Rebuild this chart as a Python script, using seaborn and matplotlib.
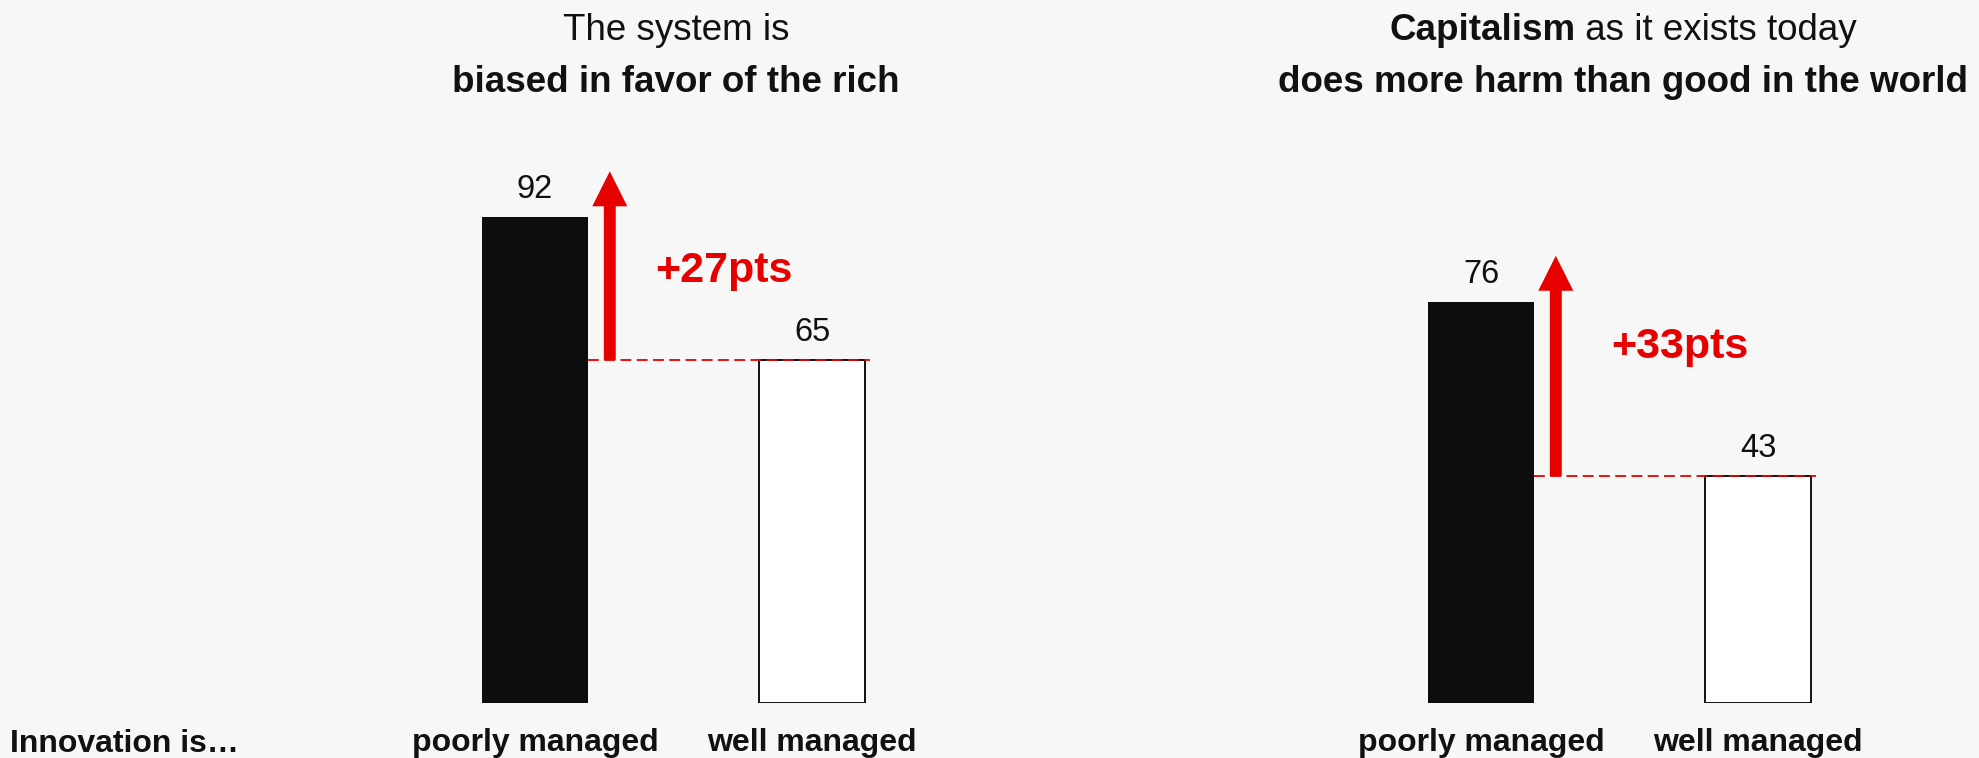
import matplotlib
matplotlib.use("Agg")
import matplotlib.pyplot as plt
import seaborn as sns
import pandas as pd

# ---------------- data ----------------
categories = ["poorly managed", "well managed"]
system_biased = [92, 65]
capitalism_harm = [76, 43]
panel_values = [system_biased, capitalism_harm]
diff_labels = ["+27pts", "+33pts"]
title_bold_lead = ["", "Capitalism"]
title_line1 = ["The system is", " as it exists today"]
title_line2 = ["biased in favor of the rich", "does more harm than good in the world"]
row_label = "Innovation is\u2026"

# annotation placement (data units)
diff_label_pos = [(0.682, 79.7), (0.718, 65.3)]

# ---------------- style ----------------
BG = "#f7f7f7"
RED = "#e60000"
BAR_COLORS = {"poorly managed": "#0d0d0d", "well managed": "#ffffff"}
ARROW_X = 0.27
ARROW_OVERSHOOT = 8.7
TITLE_FS = 26.5
LABEL_FS = 23

sns.set_style("white")
plt.rcParams["font.family"] = ["Liberation Sans", "DejaVu Sans"]

W, H = 1979, 758
fig = plt.figure(figsize=(W / 100, H / 100), dpi=100, facecolor=BG)

axes_left_px = [396.5, 1342.5]
title_center_px = [676, 1623]

for k, vals in enumerate(panel_values):
    ax = fig.add_axes([axes_left_px[k] / W, 55 / H, 554 / W, 528 / H])
    ax.set_facecolor(BG)
    df = pd.DataFrame({"cat": categories, "val": vals})
    sns.barplot(data=df, x="cat", y="val", hue="cat", palette=BAR_COLORS,
                width=0.38, saturation=1, legend=False, ax=ax)
    ax.patches[0].set_edgecolor("#0d0d0d")
    ax.patches[0].set_linewidth(0)
    ax.patches[1].set_edgecolor("#111111")
    ax.patches[1].set_linewidth(1.4)

    ax.set_xlim(-0.5, 1.5)
    ax.set_ylim(0, 100)
    for s in ax.spines.values():
        s.set_visible(False)
    ax.set_yticks([])
    ax.set_xlabel("")
    ax.set_ylabel("")
    ax.set_xticks([0, 1])
    ax.set_xticklabels(categories, fontsize=LABEL_FS, fontweight="bold", color="#111111")
    ax.tick_params(axis="x", length=0, pad=18.0)

    # value labels
    for i, v in enumerate(vals):
        ax.annotate(str(v), xy=(i, v), xytext=(0, 13.7), textcoords="offset points",
                    ha="center", va="baseline", fontsize=23.5, color="#111111")

    poor, well = vals
    # dashed reference line
    ax.hlines(well, 0.19, 1.21, colors=RED, linewidth=1.3,
              linestyles=(0, (6, 3)), zorder=5)
    # arrow
    ax.annotate("", xy=(ARROW_X, poor + ARROW_OVERSHOOT), xytext=(ARROW_X, well),
                arrowprops=dict(arrowstyle="simple,head_length=25.2,head_width=25.2,tail_width=8.6",
                                mutation_scale=1, color=RED, lw=0, shrinkA=0, shrinkB=0),
                annotation_clip=False, zorder=6)
    # difference label
    ax.text(diff_label_pos[k][0], diff_label_pos[k][1], diff_labels[k], color=RED,
            fontsize=31, fontweight="bold", ha="center", va="baseline")

# titles
renderer = fig.canvas.get_renderer()
for k in range(2):
    xc = title_center_px[k] / W
    y1 = 1 - 40 / H
    y2 = 1 - 92 / H
    if title_bold_lead[k]:
        tb = fig.text(0, y1, title_bold_lead[k], fontsize=TITLE_FS, fontweight="bold",
                      ha="left", va="baseline", color="#111111")
        tr = fig.text(0, y1, title_line1[k], fontsize=TITLE_FS, ha="left", va="baseline",
                      color="#111111")
        wb = tb.get_window_extent(renderer).width
        wr = tr.get_window_extent(renderer).width
        x0 = title_center_px[k] - (wb + wr) / 2
        tb.set_x(x0 / W)
        tr.set_x((x0 + wb) / W)
    else:
        fig.text(xc, y1, title_line1[k], fontsize=TITLE_FS, ha="center", va="baseline",
                 color="#111111")
    fig.text(xc, y2, title_line2[k], fontsize=TITLE_FS, fontweight="bold", ha="center",
             va="baseline", color="#111111")

fig.text(10 / W, 1 - 752 / H, row_label, fontsize=LABEL_FS, fontweight="bold",
         ha="left", va="baseline", color="#111111")

fig.savefig("out.png", dpi=100, facecolor=BG)
